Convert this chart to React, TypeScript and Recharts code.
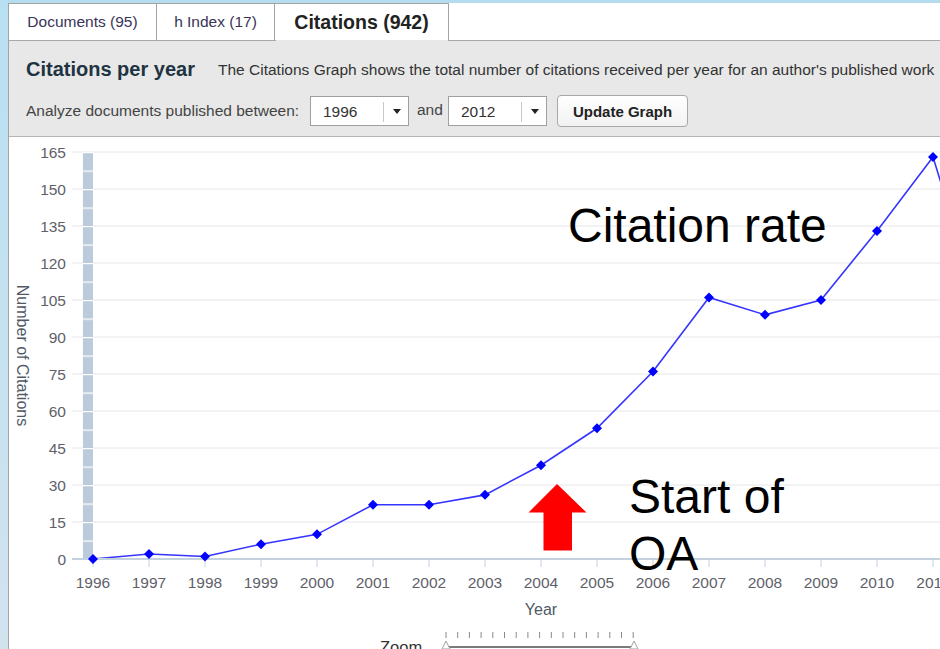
import { LineChart, Line, XAxis, YAxis, CartesianGrid, ReferenceArea } from "recharts";

const YEARS = [1996, 1997, 1998, 1999, 2000, 2001, 2002, 2003, 2004, 2005, 2006, 2007, 2008, 2009, 2010, 2011, 2012];
const CITATIONS = [0, 2, 1, 6, 10, 22, 22, 26, 38, 53, 76, 106, 99, 105, 133, 163, 89];
const Y_TICKS = [0, 15, 30, 45, 60, 75, 90, 105, 120, 135, 150, 165];
// the grey-blue strip left of 1996
const BAND = [1995.82, 1996];

const chartData = YEARS.map((year, i) => ({ year, citations: CITATIONS[i] }));

const FONT = '"Liberation Sans", Arial, sans-serif';
const AXIS_TEXT = "#5f5f6a";

const Diamond = (props: any) => {
  const { cx, cy, index } = props;
  if (cx == null || cy == null) return <g key={`d-${index}`} />;
  const r = 5;
  return (
    <path
      key={`d-${index}`}
      d={`M${cx},${cy - r}L${cx + r},${cy}L${cx},${cy + r}L${cx - r},${cy}Z`}
      fill="#0000ff"
    />
  );
};

const YTitle = (props: any) => {
  const vb = props.viewBox || { x: 0, y: 14, width: 72, height: 407 };
  const x = vb.x + 22;
  const y = vb.y + vb.height / 2;
  return (
    <text x={x} y={y} transform={`rotate(90 ${x} ${y})`} textAnchor="middle" dominantBaseline="central"
      fontSize={16} fill="#505a66" fontFamily={FONT}>
      Number of Citations
    </text>
  );
};

const XTitle = (props: any) => {
  const vb = props.viewBox || { x: 72, y: 421, width: 938, height: 70 };
  return (
    <text x={vb.x + vb.width / 2} y={vb.y + 50} textAnchor="middle" dominantBaseline="central"
      fontSize={16} fill="#505a66" fontFamily={FONT}>
      Year
    </text>
  );
};

function Select({ left, value }: { left: number; value: string }) {
  return (
    <div style={{ position: "absolute", left, top: 96, width: 99, height: 30, background: "#fff", border: "1px solid #a0a0a0", boxSizing: "border-box" }}>
      <span style={{ position: "absolute", left: 12, top: 6, fontSize: 15.5, color: "#333" }}>{value}</span>
      <div style={{ position: "absolute", left: 72, top: 5, width: 1, height: 20, background: "#c8c8c8" }} />
      <div style={{ position: "absolute", left: 82, top: 12, width: 0, height: 0, borderLeft: "4px solid transparent", borderRight: "4px solid transparent", borderTop: "5px solid #222" }} />
    </div>
  );
}

export default function App() {
  return (
    <div style={{ position: "fixed", left: 0, top: 0, width: 940, height: 649, overflow: "hidden", background: "#fff", fontFamily: FONT }}>
      {/* window edges */}
      <div style={{ position: "absolute", left: 0, top: 0, width: 940, height: 3, background: "#b4dcef" }} />
      <div style={{ position: "absolute", left: 0, top: 0, width: 8, height: 649, background: "linear-gradient(to bottom, #b8e0f3, #d2e3ee)" }} />
      <div style={{ position: "absolute", left: 8, top: 3, width: 1, height: 646, background: "#a4a4a4" }} />

      {/* tabs */}
      <div style={{ position: "absolute", left: 9, top: 3, width: 148, height: 37, borderTop: "1px solid #a4a4a4", borderRight: "1px solid #a4a4a4", boxSizing: "border-box", display: "flex", alignItems: "center", justifyContent: "center", fontSize: 15.5, color: "#3a3356" }}>
        Documents (95)
      </div>
      <div style={{ position: "absolute", left: 157, top: 3, width: 118, height: 37, borderTop: "1px solid #a4a4a4", borderRight: "1px solid #a4a4a4", boxSizing: "border-box", display: "flex", alignItems: "center", justifyContent: "center", fontSize: 15.5, color: "#3a3356" }}>
        h Index (17)
      </div>
      <div style={{ position: "absolute", left: 275, top: 3, width: 174, height: 38, borderTop: "1px solid #a4a4a4", borderRight: "1px solid #a4a4a4", boxSizing: "border-box", display: "flex", alignItems: "center", justifyContent: "center", fontSize: 19.5, fontWeight: 700, color: "#222", background: "#fff" }}>
        Citations (942)
      </div>

      {/* control panel */}
      <div style={{ position: "absolute", left: 9, top: 40, width: 931, height: 97, background: "#e8e8e8", borderTop: "1px solid #a8a8a8", borderBottom: "1px solid #b4b4b4", boxSizing: "border-box" }} />
      <div style={{ position: "absolute", left: 276, top: 40, width: 172, height: 1, background: "#e8e8e8" }} />
      <div style={{ position: "absolute", left: 26, top: 58, fontSize: 20, fontWeight: 700, color: "#1f3442", whiteSpace: "nowrap" }}>
        Citations per year
      </div>
      <div style={{ position: "absolute", left: 218, top: 61, fontSize: 15.5, color: "#333", whiteSpace: "nowrap" }}>
        The Citations Graph shows the total number of citations received per year for an author's published work
      </div>
      <div style={{ position: "absolute", left: 26, top: 102, fontSize: 15.5, color: "#444", whiteSpace: "nowrap" }}>
        Analyze documents published between:
      </div>
      <Select left={310} value="1996" />
      <div style={{ position: "absolute", left: 417, top: 101, fontSize: 15.5, color: "#444" }}>and</div>
      <Select left={448} value="2012" />
      <div style={{ position: "absolute", left: 557, top: 95, width: 131, height: 32, border: "1px solid #a8a8a8", borderRadius: 4, boxSizing: "border-box", background: "linear-gradient(#ffffff, #f2f2f2)", display: "flex", alignItems: "center", justifyContent: "center", fontSize: 15, fontWeight: 700, color: "#222" }}>
        Update Graph
      </div>

      {/* chart */}
      <div style={{ position: "absolute", left: 0, top: 138 }}>
        <LineChart width={1020} height={491} data={chartData} margin={{ top: 14, right: 10, left: 0, bottom: 0 }}>
          <defs>
            <pattern id="bandFill" patternUnits="userSpaceOnUse" x={0} y={14} width={20} height={407 / 22}>
              <rect x={0} y={0} width={20} height={407 / 22} fill="#bccbdb" />
              <rect x={0} y={0} width={20} height={1.2} fill="#ffffff" />
            </pattern>
          </defs>
          <CartesianGrid horizontal vertical={false} stroke="#e6e6e6" />
          <XAxis
            type="number"
            dataKey="year"
            domain={[1995.625, 2012.375]}
            ticks={YEARS}
            interval={0}
            allowDataOverflow
            height={70}
            tickSize={8}
            tickMargin={10}
            axisLine={{ stroke: "#c4d2e0", strokeWidth: 2 }}
            tickLine={{ stroke: "#c4d2e0" }}
            tick={{ fill: AXIS_TEXT, fontSize: 15.5, fontFamily: FONT }}
            label={{ content: XTitle }}
          />
          <YAxis
            domain={[0, 165]}
            ticks={Y_TICKS}
            interval={0}
            width={72}
            tickSize={4}
            tickMargin={2}
            axisLine={false}
            tickLine={false}
            tick={{ fill: AXIS_TEXT, fontSize: 15.5, fontFamily: FONT }}
            label={{ content: YTitle }}
          />
          <ReferenceArea x1={BAND[0]} x2={BAND[1]} y1={0} y2={165} fill="url(#bandFill)" fillOpacity={1} stroke="none" ifOverflow="visible" />
          <Line
            type="linear"
            dataKey="citations"
            stroke="#3535ff"
            strokeWidth={1.6}
            dot={Diamond}
            activeDot={false}
            isAnimationActive={false}
          />
        </LineChart>
      </div>

      {/* slide annotations and zoom control */}
      <svg width={940} height={649} style={{ position: "absolute", left: 0, top: 0, pointerEvents: "none" }}>
        <text x={568} y={242} fontSize={48} fontFamily={FONT} fill="#000">Citation rate</text>
        <polygon points="557,484 586.5,512.5 572,512.5 572,550.5 543.5,550.5 543.5,512.5 528.5,512.5" fill="#ff0000" />
        <text x={629} y={513} fontSize={48} fontFamily={FONT} fill="#000">Start of</text>
        <text x={629} y={570} fontSize={48} fontFamily={FONT} fill="#000">OA</text>

        <text x={380} y={653} fontSize={16.5} fontFamily={FONT} fill="#333">Zoom</text>
        {YEARS.map((y, i) => (
          <line key={y} x1={446 + i * 11.7} x2={446 + i * 11.7} y1={632} y2={638} stroke="#888" strokeWidth={1} />
        ))}
        <line x1={447} x2={634} y1={647} y2={647} stroke="#7a7a7a" strokeWidth={2} />
        <polygon points="446,641 450,649 442,649" fill="#fff" stroke="#a0a0a0" />
        <polygon points="634,641 638,649 630,649" fill="#fff" stroke="#a0a0a0" />
      </svg>
    </div>
  );
}
